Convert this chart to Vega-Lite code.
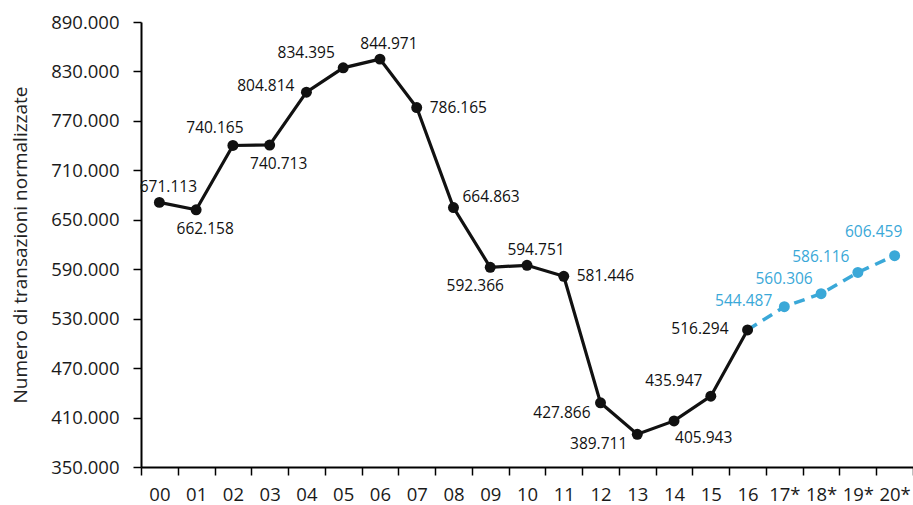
{
  "$schema": "https://vega.github.io/schema/vega-lite/v6.json",
  "width": 772,
  "height": 445,
  "autosize": {"type": "none"},
  "padding": {"left": 141, "top": 22, "right": 0, "bottom": 38},
  "background": "white",
  "config": {
    "view": {"stroke": null},
    "locale": {"number": {"decimal": ",", "thousands": ".", "grouping": [3], "currency": ["€", ""]}},
    "font": "Open Sans"
  },
  "data": {
    "values": [
      {"anno": "00", "valore": 671113, "tipo": "storico"},
      {"anno": "01", "valore": 662158, "tipo": "storico"},
      {"anno": "02", "valore": 740165, "tipo": "storico"},
      {"anno": "03", "valore": 740713, "tipo": "storico"},
      {"anno": "04", "valore": 804814, "tipo": "storico"},
      {"anno": "05", "valore": 834395, "tipo": "storico"},
      {"anno": "06", "valore": 844971, "tipo": "storico"},
      {"anno": "07", "valore": 786165, "tipo": "storico"},
      {"anno": "08", "valore": 664863, "tipo": "storico"},
      {"anno": "09", "valore": 592366, "tipo": "storico"},
      {"anno": "10", "valore": 594751, "tipo": "storico"},
      {"anno": "11", "valore": 581446, "tipo": "storico"},
      {"anno": "12", "valore": 427866, "tipo": "storico"},
      {"anno": "13", "valore": 389711, "tipo": "storico"},
      {"anno": "14", "valore": 405943, "tipo": "storico"},
      {"anno": "15", "valore": 435947, "tipo": "storico"},
      {"anno": "16", "valore": 516294, "tipo": "storico"},
      {"anno": "17*", "valore": 544487, "tipo": "stima"},
      {"anno": "18*", "valore": 560306, "tipo": "stima"},
      {"anno": "19*", "valore": 586116, "tipo": "stima"},
      {"anno": "20*", "valore": 606459, "tipo": "stima"}
    ]
  },
  "encoding": {
    "x": {
      "field": "anno", "type": "ordinal", "sort": null,
      "scale": {"type": "band", "paddingInner": 0, "paddingOuter": 0},
      "axis": {
        "title": null, "labelAngle": 0, "tickBand": "extent",
        "domainColor": "#000", "domainWidth": 2, "tickColor": "#000", "tickWidth": 1.5, "tickSize": 8,
        "labelFont": "Open Sans", "labelFontSize": 18.5, "labelColor": "#1a1a1a", "labelPadding": 10,
        "grid": false
      }
    },
    "y": {
      "field": "valore", "type": "quantitative",
      "scale": {"domain": [350000, 890000], "nice": false, "zero": false},
      "axis": {
        "title": "Numero di transazioni normalizzate",
        "titleFont": "Open Sans", "titleFontSize": 19, "titleFontWeight": "normal", "titleColor": "#222", "titlePadding": 20,
        "values": [350000, 410000, 470000, 530000, 590000, 650000, 710000, 770000, 830000, 890000],
        "format": ",d",
        "domainColor": "#000", "domainWidth": 2, "tickColor": "#000", "tickWidth": 1.5, "tickSize": 8,
        "labelFont": "Open Sans", "labelFontSize": 18.5, "labelColor": "#1a1a1a", "labelPadding": 14,
        "grid": false
      }
    },
    "color": {
      "field": "tipo", "type": "nominal",
      "scale": {"domain": ["storico", "stima"], "range": ["#111111", "#3aa8d8"]},
      "legend": null
    }
  },
  "layer": [
    {
      "transform": [{"filter": "datum.tipo === 'storico'"}],
      "mark": {"type": "line", "strokeWidth": 3.2}
    },
    {
      "transform": [{"filter": "datum.tipo === 'stima' || datum.anno === '16'"}],
      "mark": {"type": "line", "strokeWidth": 3.5, "strokeDash": [11, 7], "color": "#3aa8d8"},
      "encoding": {"color": {"value": "#3aa8d8"}}
    },
    {
      "mark": {"type": "point", "filled": true, "opacity": 1, "size": 120}
    },
    {
      "transform": [{"filter": {"field": "anno", "oneOf": ["00", "06", "10"]}}],
      "mark": {"type": "text", "align": "center", "baseline": "middle", "dx": 9, "dy": -15, "fontSize": 15.5},
      "encoding": {"text": {"field": "valore", "type": "quantitative", "format": ",d"}}
    },
    {
      "transform": [{"filter": {"field": "anno", "oneOf": ["01", "03"]}}],
      "mark": {"type": "text", "align": "center", "baseline": "middle", "dx": 9, "dy": 19, "fontSize": 15.5},
      "encoding": {"text": {"field": "valore", "type": "quantitative", "format": ",d"}}
    },
    {
      "transform": [{"filter": {"field": "anno", "oneOf": ["09"]}}],
      "mark": {"type": "text", "align": "center", "baseline": "middle", "dx": -15, "dy": 19, "fontSize": 15.5},
      "encoding": {"text": {"field": "valore", "type": "quantitative", "format": ",d"}}
    },
    {
      "transform": [{"filter": {"field": "anno", "oneOf": ["02"]}}],
      "mark": {"type": "text", "align": "center", "baseline": "middle", "dx": -18, "dy": -17, "fontSize": 15.5},
      "encoding": {"text": {"field": "valore", "type": "quantitative", "format": ",d"}}
    },
    {
      "transform": [{"filter": {"field": "anno", "oneOf": ["05", "15", "18*", "19*"]}}],
      "mark": {"type": "text", "align": "center", "baseline": "middle", "dx": -37, "dy": -15, "fontSize": 15.5},
      "encoding": {"text": {"field": "valore", "type": "quantitative", "format": ",d"}}
    },
    {
      "transform": [{"filter": {"field": "anno", "oneOf": ["04", "17*"]}}],
      "mark": {"type": "text", "align": "right", "baseline": "middle", "dx": -12, "dy": -6, "fontSize": 15.5},
      "encoding": {"text": {"field": "valore", "type": "quantitative", "format": ",d"}}
    },
    {
      "transform": [{"filter": {"field": "anno", "oneOf": ["16"]}}],
      "mark": {"type": "text", "align": "right", "baseline": "middle", "dx": -19, "dy": -1, "fontSize": 15.5},
      "encoding": {"text": {"field": "valore", "type": "quantitative", "format": ",d"}}
    },
    {
      "transform": [{"filter": {"field": "anno", "oneOf": ["12", "13"]}}],
      "mark": {"type": "text", "align": "right", "baseline": "middle", "dx": -10, "dy": 10, "fontSize": 15.5},
      "encoding": {"text": {"field": "valore", "type": "quantitative", "format": ",d"}}
    },
    {
      "transform": [{"filter": {"field": "anno", "oneOf": ["07", "11"]}}],
      "mark": {"type": "text", "align": "left", "baseline": "middle", "dx": 13, "dy": 0, "fontSize": 15.5},
      "encoding": {"text": {"field": "valore", "type": "quantitative", "format": ",d"}}
    },
    {
      "transform": [{"filter": {"field": "anno", "oneOf": ["08"]}}],
      "mark": {"type": "text", "align": "left", "baseline": "middle", "dx": 9, "dy": -11, "fontSize": 15.5},
      "encoding": {"text": {"field": "valore", "type": "quantitative", "format": ",d"}}
    },
    {
      "transform": [{"filter": {"field": "anno", "oneOf": ["14"]}}],
      "mark": {"type": "text", "align": "left", "baseline": "middle", "dx": 1, "dy": 17, "fontSize": 15.5},
      "encoding": {"text": {"field": "valore", "type": "quantitative", "format": ",d"}}
    },
    {
      "transform": [{"filter": {"field": "anno", "oneOf": ["20*"]}}],
      "mark": {"type": "text", "align": "center", "baseline": "middle", "dx": -21, "dy": -24, "fontSize": 15.5},
      "encoding": {"text": {"field": "valore", "type": "quantitative", "format": ",d"}}
    }
  ]
}
